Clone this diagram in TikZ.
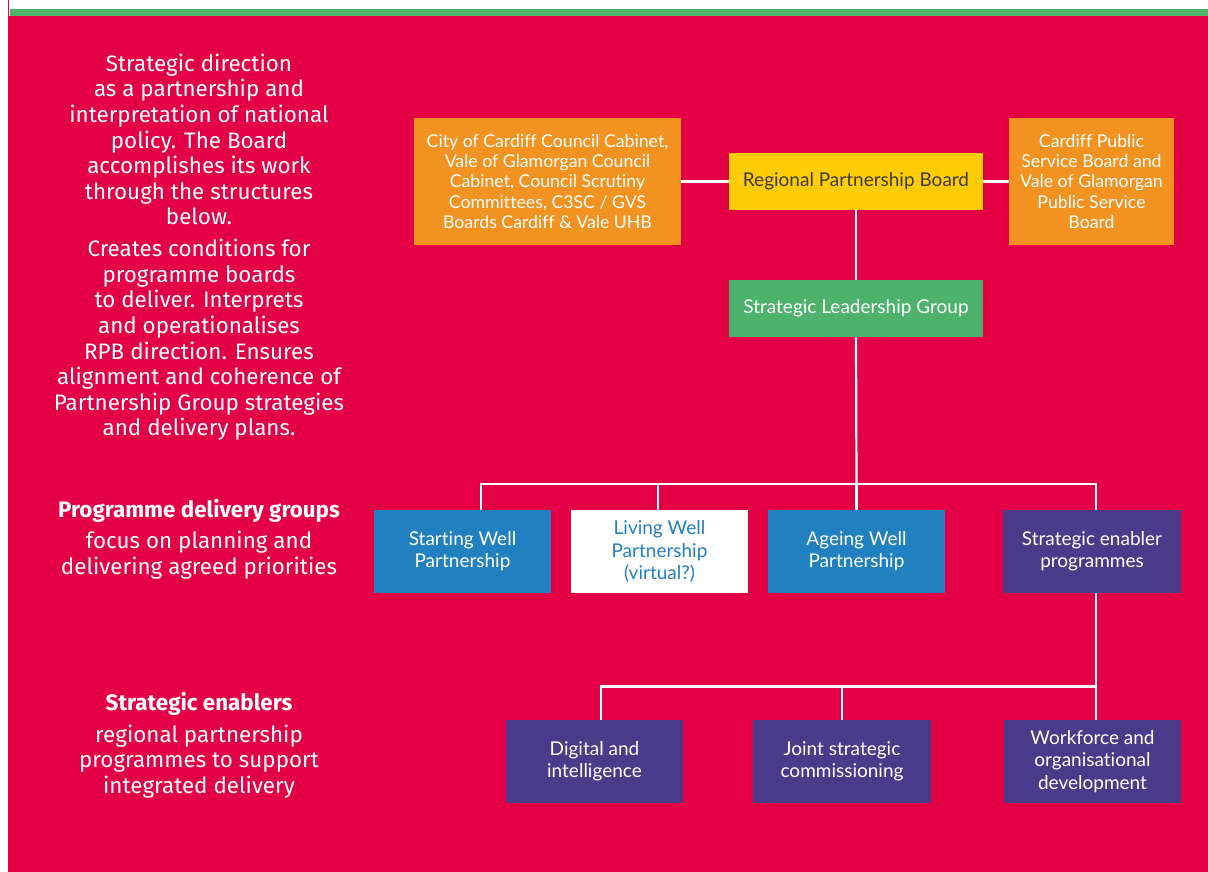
\documentclass[tikz,border=0pt]{standalone}
\usepackage{fontspec}
\setmainfont{Lato}[Ligatures=NoCommon]
\newfontfamily\leftfont{Fira Sans}[Ligatures=NoCommon]
\definecolor{bgred}{HTML}{E30045}
\definecolor{bandgreen}{HTML}{4FB36A}
\definecolor{boxorange}{HTML}{F29321}
\definecolor{boxyellow}{HTML}{FFCC05}
\definecolor{boxgreen}{HTML}{4DB26B}
\definecolor{boxblue}{HTML}{2180BF}
\definecolor{boxpurple}{HTML}{4B3A8A}
\definecolor{darktext}{HTML}{3C3C3C}
\begin{document}
\begin{tikzpicture}[x=1pt,y=-1pt,
  box/.style={rectangle, inner sep=0pt, align=center, text=white,
    font=\fontsize{17.7}{20.3}\selectfont},
  orangebox/.style={box, fill=boxorange, minimum height=127pt},
  wide/.style={box, minimum width=254pt, minimum height=57.5pt},
  progbox/.style={box, minimum width=177.5pt, minimum height=83pt,
    font=\fontsize{19}{22.2}\selectfont},
  link/.style={draw=white, line width=2.2pt},
  side/.style={text=white, align=center, inner sep=0pt,
    font=\leftfont\fontsize{22.4}{25.6}\selectfont},
  sidehead/.style={side, font=\leftfont\bfseries\fontsize{22.4}{25.6}\selectfont}]
\useasboundingbox (0,0) rectangle (1208,872);
\fill[white] (0,0) rectangle (1208,872);
\fill[bgred] (7.5,0) rectangle (1208,872);
\fill[white] (8.5,0) rectangle (1208,9);
\fill[white] (8.5,9) rectangle (10,16);
\fill[bandgreen] (10,9) rectangle (1208,16);

% left descriptive texts
\node[side] (t1) at (199,139.5) {Strategic direction\\as a partnership and\\interpretation of national\\policy. The Board\\accomplishes its work\\through the structures\\below.};
\node[side] (t2) at (199,340) {Creates conditions for\\programme boards\\to deliver. Interprets\\and operationalises\\RPB direction. Ensures\\alignment and coherence of\\Partnership Group strategies\\and delivery plans.};
\node[sidehead] (h3) at (199,510.5) {Programme delivery groups};
\node[side] (t3) at (199,555) {focus on planning and\\delivering agreed priorities};
\node[sidehead] (h4) at (199,704) {Strategic enablers};
\node[side] (t4) at (199,761.5) {regional partnership\\programmes to support\\integrated delivery};

% top row
\node[orangebox, minimum width=267pt] (council) at (547.5,181.5) {City of Cardiff Council Cabinet,\\Vale of Glamorgan Council\\Cabinet, Council Scrutiny\\Committees, C3SC / GVS\\Boards Cardiff \& Vale UHB};
\node[wide, fill=boxyellow, text=darktext, font=\fontsize{19}{22}\selectfont] (rpb) at (856,181.5) {Regional Partnership Board};
\node[orangebox, minimum width=165pt] (psb) at (1091.5,181.5) {Cardiff Public\\Service Board and\\Vale of Glamorgan\\Public Service\\Board};
\node[wide, fill=boxgreen, font=\fontsize{19}{22}\selectfont] (slg) at (856,308.5) {Strategic Leadership Group};

% programme delivery groups
\node[progbox, fill=boxblue] (start) at (462.5,551.5) {Starting Well\\Partnership};
\node[progbox, fill=white, text=boxblue] (living) at (659.5,551.5) {Living Well\\Partnership\\(virtual?)};
\node[progbox, fill=boxblue] (ageing) at (856.5,551.5) {Ageing Well\\Partnership};
\node[progbox, fill=boxpurple] (enabler) at (1092,551.5) {Strategic enabler\\programmes};

% strategic enablers
\node[progbox, fill=boxpurple] (digital) at (594.5,761.5) {Digital and\\intelligence};
\node[progbox, fill=boxpurple] (joint) at (842,761.5) {Joint strategic\\commissioning};
\node[progbox, fill=boxpurple] (workforce) at (1092.5,761.5) {Workforce and\\organisational\\development};

\coordinate (bar1) at (856.5,484);
\coordinate (bar2) at (1096,686.5);

% connectors
\draw[link] (council.east) -- (council.east -| rpb.west);
\draw[link] (rpb.east) -- (rpb.east -| psb.west);
\draw[link] (rpb.south) -- (slg.north);
\draw[link] (slg.south) -- (bar1);
\draw[link] ([xshift=18.5pt]start.north) |- (bar1);
\draw[link] ([xshift=-1.5pt]living.north) -- ([xshift=-1.5pt]living.north |- bar1);
\draw[link] (ageing.north) -- (bar1);
\draw[link] ([xshift=4pt]enabler.north) |- (bar1);
\draw[link] ([xshift=4pt]enabler.south) -- (bar2);
\draw[link] ([xshift=6.5pt]digital.north) |- (bar2);
\draw[link] (joint.north) -- (joint.north |- bar2);
\draw[link] ([xshift=3.5pt]workforce.north) -- (bar2);
\end{tikzpicture}
\end{document}
